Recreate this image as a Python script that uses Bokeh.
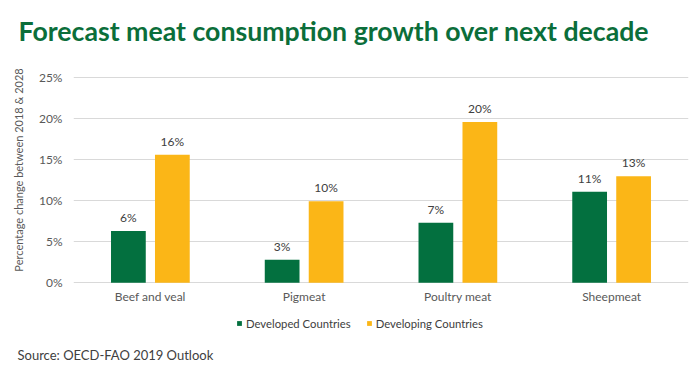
from bokeh.plotting import figure
from bokeh.layouts import column
from bokeh.models import (ColumnDataSource, FactorRange, Range1d, Legend, LegendItem,
                          FixedTicker, PrintfTickFormatter, Title)
from bokeh.transform import dodge
from bokeh.core.properties import value
from bokeh.embed import file_html
from bokeh.resources import INLINE

categories = ["Beef and veal", "Pigmeat", "Poultry meat", "Sheepmeat"]
developed = [6.3, 2.8, 7.3, 11.1]
developing = [15.6, 9.95, 19.6, 13.0]
series_names = ["Developed Countries", "Developing Countries"]
y_ticks = [0, 5, 10, 15, 20, 25]

GREEN = "#03703f"
YELLOW = "#fbb617"
FONT = "Lato"

src = ColumnDataSource(dict(
    cat=categories,
    dev=developed,
    dvg=developing,
    dev_lbl=[f"{round(v)}%" for v in developed],
    dvg_lbl=[f"{round(v)}%" for v in developing],
))

p = figure(x_range=FactorRange(*categories), y_range=Range1d(-0.1, 27.6),
           frame_width=615, frame_height=227, output_backend="svg", toolbar_location=None,
           min_border_left=73, min_border_right=12, min_border_top=56, min_border_bottom=22)
p.outline_line_color = None
p.background_fill_color = "white"

r1 = p.vbar(x=dodge("cat", -0.143, range=p.x_range), top="dev", width=0.226, source=src,
            fill_color=GREEN, line_color=None)
r2 = p.vbar(x=dodge("cat", 0.143, range=p.x_range), top="dvg", width=0.226, source=src,
            fill_color=YELLOW, line_color=None)

for col, lbl, off in (("dev", "dev_lbl", -0.143), ("dvg", "dvg_lbl", 0.143)):
    p.text(x=dodge("cat", off, range=p.x_range), y=col, text=lbl, source=src,
           text_align="center", text_baseline="bottom", y_offset=-6,
           text_font=value(FONT), text_font_size="12px", text_color="#404040")

# axes
p.xgrid.grid_line_color = None
p.ygrid.grid_line_color = "#d9d9d9"
p.ygrid.grid_line_width = 1
p.yaxis.ticker = FixedTicker(ticks=y_ticks)
p.yaxis.formatter = PrintfTickFormatter(format="%d%%")
for ax in (p.xaxis[0], p.yaxis[0]):
    ax.axis_line_color = None
    ax.major_tick_line_color = None
    ax.minor_tick_line_color = None
    ax.major_tick_out = 0
    ax.major_tick_in = 0
    ax.major_label_text_font = FONT
    ax.major_label_text_font_size = "12px"
    ax.major_label_text_color = "#595959"
p.yaxis.major_label_standoff = 11
p.xaxis.major_label_standoff = 5
p.yaxis.axis_label = "Percentage change between 2018 & 2028"
p.yaxis.axis_label_text_font = FONT
p.yaxis.axis_label_text_font_size = "11px"
p.yaxis.axis_label_text_font_style = "normal"
p.yaxis.axis_label_text_color = "#595959"
p.yaxis.axis_label_standoff = 11

# title
p.title.text = "Forecast meat consumption growth over next decade"
p.title.text_font = FONT
p.title.text_font_size = "26.7px"
p.title.text_font_style = "bold"
p.title.text_color = "#0b6e3a"
p.title.align = "left"
p.title.vertical_align = "top"
p.title.offset = -55
p.title.standoff = 16

# footer figure: legend + source
p2 = figure(frame_width=615, frame_height=36, x_range=FactorRange(*categories),
            y_range=Range1d(0, 36), output_backend="svg", toolbar_location=None,
            x_axis_location=None, y_axis_location=None,
            min_border_left=73, min_border_right=12, min_border_top=0, min_border_bottom=0)
p2.outline_line_color = None
p2.grid.visible = False
# zero-height helper bars that only carry the legend swatch styles
d1 = p2.vbar(x="cat", top="dev", bottom="dev", width=0.2, source=src,
             fill_color=GREEN, line_color=None)
d2 = p2.vbar(x="cat", top="dvg", bottom="dvg", width=0.2, source=src,
             fill_color=YELLOW, line_color=None)

legend = Legend(items=[LegendItem(label=series_names[0], renderers=[d1]),
                       LegendItem(label=series_names[1], renderers=[d2])],
                orientation="horizontal", location=(163, 12),
                glyph_width=6, glyph_height=6, label_height=14, label_standoff=4,
                spacing=15, padding=0, margin=0, border_line_color=None,
                background_fill_alpha=0, label_text_font=FONT, label_text_font_size="11.3px",
                label_text_color="#404040")
p2.add_layout(legend)
p2.add_layout(Title(text="Source: OECD-FAO 2019 Outlook", align="left", offset=-56,
                    standoff=5, text_font=FONT, text_font_size="13px",
                    text_font_style="normal", text_color="#404040"), "below")

open("out.html", "w").write(file_html(column(p, p2, spacing=0), INLINE))
